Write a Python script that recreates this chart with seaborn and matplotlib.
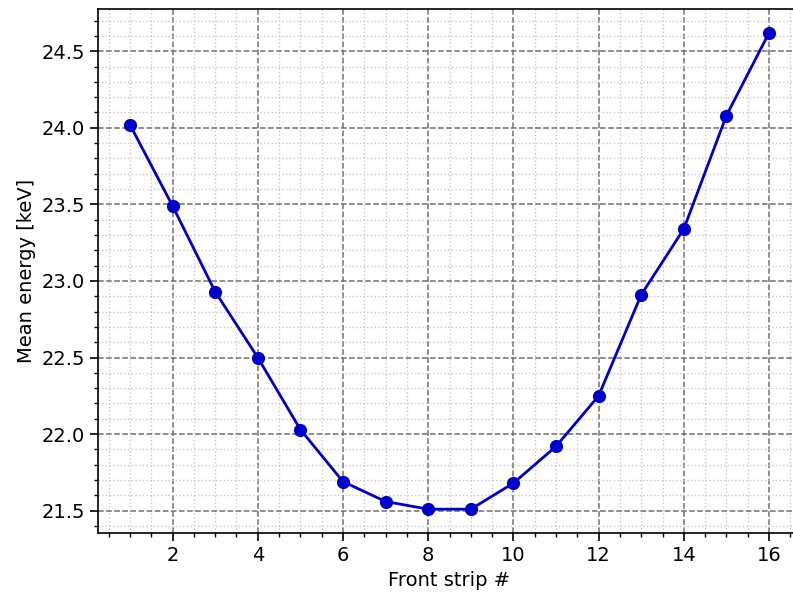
import matplotlib
matplotlib.use("Agg")
import matplotlib.pyplot as plt
import seaborn as sns
import pandas as pd
from matplotlib.ticker import MultipleLocator

strips = [1, 2, 3, 4, 5, 6, 7, 8, 9, 10, 11, 12, 13, 14, 15, 16]
energy = [24.02, 23.49, 22.93, 22.50, 22.03, 21.69, 21.56, 21.51, 21.51,
          21.68, 21.92, 22.25, 22.91, 23.34, 24.08, 24.62]

df = pd.DataFrame({"strip": strips, "energy": energy})

sns.set_style("ticks")
plt.rcParams['font.family'] = ['DejaVu Sans']
plt.rcParams['text.color'] = 'black'
plt.rcParams['axes.labelcolor'] = 'black'
plt.rcParams['xtick.color'] = 'black'
plt.rcParams['ytick.color'] = 'black'

fig = plt.figure(figsize=(7.93, 5.95), dpi=100)
W, H = 793, 595
left, right, top, bottom = 98, 801, 9, 533
ax = fig.add_axes([left / W, 1 - bottom / H, (right - left) / W, (bottom - top) / H])

sns.lineplot(data=df, x="strip", y="energy", ax=ax, color="mediumblue",
             marker="o", markersize=9.5, linewidth=2, markeredgewidth=0)

ax.set_xlim(0.25, 16.75)
ax.set_ylim(21.3545, 24.7755)
ax.xaxis.set_major_locator(MultipleLocator(2))
ax.xaxis.set_minor_locator(MultipleLocator(0.5))
ax.yaxis.set_major_locator(MultipleLocator(0.5))
ax.yaxis.set_minor_locator(MultipleLocator(0.1))
ax.grid(which="major", linestyle="--", color="#707070", linewidth=1.1)
ax.grid(which="minor", linestyle=":", color="#c8c8c8", linewidth=1.0)
ax.set_axisbelow(True)
for s in ax.spines.values():
    s.set_visible(True)
    s.set_color("black")
    s.set_linewidth(1.2)
ax.tick_params(which="major", length=6, width=1.2, labelsize=14, colors="black")
ax.tick_params(which="minor", length=3, width=1.0, colors="black")
ax.set_xlabel("Front strip #", fontsize=14, color="black")
ax.set_ylabel("Mean energy [keV]", fontsize=14, color="black")

fig.savefig("out.png", dpi=100)
